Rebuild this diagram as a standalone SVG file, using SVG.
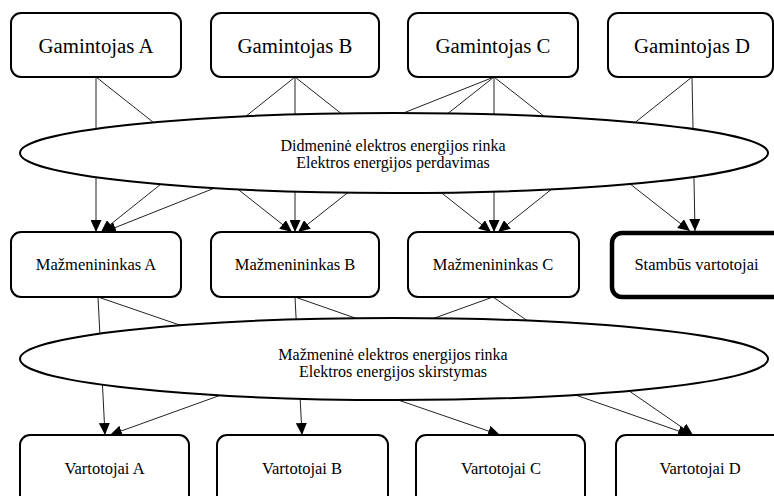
<svg xmlns="http://www.w3.org/2000/svg" width="774" height="496" viewBox="0 0 774 496">
  <style>
    .box { fill: #ffffff; stroke: #000000; stroke-width: 2; }
    .heavy { stroke-width: 4.5; }
    .market { fill: #ffffff; stroke: #000000; stroke-width: 2; }
    .edge { fill: none; stroke: #222222; stroke-width: 1; marker-end: url(#arrow); }
    text { font-family: "Liberation Serif", "Times New Roman", serif; fill: #000000; text-anchor: middle; }
    .t1 { font-size: 20.8px; }
    .t2 { font-size: 16.5px; }
    .t3 { font-size: 16px; }
  </style>
  <defs>
    <marker id="arrow" markerUnits="userSpaceOnUse" markerWidth="12" markerHeight="11" refX="12" refY="5.5" orient="auto">
      <path d="M0,0 L12,5.5 L0,11 z" fill="#000000"/>
    </marker>
  </defs>
  <rect width="774" height="496" fill="#ffffff"/>

  <!-- connectors: drawn first so the market ellipses cover their middle parts -->
  <g id="connectors">
    <!-- producers to retailers / large consumers -->
    <line class="edge" x1="96" y1="77" x2="96" y2="232"/>
    <line class="edge" x1="96" y1="77" x2="292" y2="232"/>
    <line class="edge" x1="295" y1="77" x2="101" y2="232"/>
    <line class="edge" x1="295" y1="77" x2="295" y2="232"/>
    <line class="edge" x1="295" y1="77" x2="491" y2="232"/>
    <line class="edge" x1="494" y1="77" x2="104" y2="232"/>
    <line class="edge" x1="494" y1="77" x2="298" y2="232"/>
    <line class="edge" x1="494" y1="77" x2="494" y2="232"/>
    <line class="edge" x1="494" y1="77" x2="690" y2="231"/>
    <line class="edge" x1="692" y1="77" x2="498" y2="232"/>
    <line class="edge" x1="692" y1="77" x2="695" y2="231"/>
    <!-- retailers to consumers -->
    <line class="edge" x1="98" y1="297" x2="105" y2="435"/>
    <line class="edge" x1="98" y1="297" x2="500" y2="435"/>
    <line class="edge" x1="295" y1="297" x2="302" y2="435"/>
    <line class="edge" x1="295" y1="297" x2="690" y2="435"/>
    <line class="edge" x1="493" y1="297" x2="110" y2="435"/>
    <line class="edge" x1="493" y1="297" x2="693" y2="435"/>
  </g>

  <!-- wholesale market -->
  <g id="wholesale-market">
    <ellipse class="market" cx="394" cy="153" rx="374" ry="40"/>
    <text class="t3" x="393" y="150.5">Didmeninė elektros energijos rinka</text>
    <text class="t3" x="393" y="168">Elektros energijos perdavimas</text>
  </g>

  <!-- retail market -->
  <g id="retail-market">
    <ellipse class="market" cx="394" cy="359" rx="374" ry="41"/>
    <text class="t3" x="393" y="359.5">Mažmeninė elektros energijos rinka</text>
    <text class="t3" x="393" y="377">Elektros energijos skirstymas</text>
  </g>

  <!-- producers -->
  <g id="gamintojas-a">
    <rect class="box" x="11" y="13" width="170" height="64" rx="10"/>
    <text class="t1" x="96" y="53">Gamintojas A</text>
  </g>
  <g id="gamintojas-b">
    <rect class="box" x="211" y="13" width="168" height="64" rx="10"/>
    <text class="t1" x="295" y="53">Gamintojas B</text>
  </g>
  <g id="gamintojas-c">
    <rect class="box" x="408" y="13" width="170" height="64" rx="10"/>
    <text class="t1" x="493" y="53">Gamintojas C</text>
  </g>
  <g id="gamintojas-d">
    <rect class="box" x="608" y="13" width="165" height="64" rx="10"/>
    <text class="t1" x="692" y="53">Gamintojas D</text>
  </g>

  <!-- retailers and large consumers -->
  <g id="mazmenininkas-a">
    <rect class="box" x="11" y="232" width="170" height="65" rx="10"/>
    <text class="t2" x="96" y="270">Mažmenininkas A</text>
  </g>
  <g id="mazmenininkas-b">
    <rect class="box" x="211" y="232" width="168" height="65" rx="10"/>
    <text class="t2" x="295" y="270">Mažmenininkas B</text>
  </g>
  <g id="mazmenininkas-c">
    <rect class="box" x="408" y="232" width="171" height="65" rx="10"/>
    <text class="t2" x="493" y="270">Mažmenininkas C</text>
  </g>
  <g id="stambus-vartotojai">
    <rect class="box heavy" x="612" y="233" width="172" height="64" rx="10"/>
    <text class="t2" x="696.5" y="270">Stambūs vartotojai</text>
  </g>

  <!-- consumers -->
  <g id="vartotojai-a">
    <rect class="box" x="20" y="435" width="169" height="75" rx="10"/>
    <text class="t2" x="104.5" y="474">Vartotojai A</text>
  </g>
  <g id="vartotojai-b">
    <rect class="box" x="217" y="435" width="171" height="75" rx="10"/>
    <text class="t2" x="302" y="474">Vartotojai B</text>
  </g>
  <g id="vartotojai-c">
    <rect class="box" x="416" y="435" width="169" height="75" rx="10"/>
    <text class="t2" x="501" y="474">Vartotojai C</text>
  </g>
  <g id="vartotojai-d">
    <rect class="box" x="616" y="435" width="168" height="75" rx="10"/>
    <text class="t2" x="700" y="474">Vartotojai D</text>
  </g>
</svg>
